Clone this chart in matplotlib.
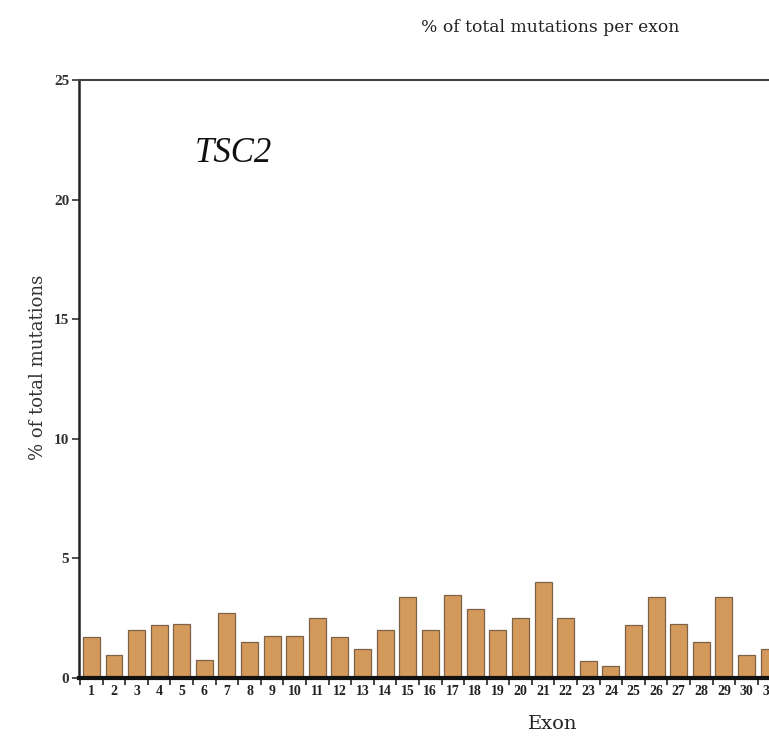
import matplotlib.pyplot as plt
import numpy as np

exons = list(range(1, 32))
pct = [1.7, 0.95, 2.0, 2.2, 2.25, 0.75, 2.7, 1.5, 1.75, 1.75,
       2.5, 1.7, 1.2, 2.0, 3.4, 2.0, 3.45, 2.9, 2.0, 2.5,
       4.0, 2.5, 0.7, 0.5, 2.2, 3.4, 2.25, 1.5, 3.4, 0.95,
       1.2]
yticks = [0, 5, 10, 15, 20, 25]

plt.rcParams['font.family'] = ['Liberation Serif', 'DejaVu Serif']

fig = plt.figure(figsize=(7.69, 7.37), dpi=100, facecolor='white')
ax = fig.add_axes([79 / 769, 59 / 737, 690 / 769, 598 / 737])

ax.bar(exons, pct, width=0.75, color='#d49a5b', edgecolor='#7d6248', linewidth=0.9)

ax.set_xlim(0.45, 30.78)
ax.set_ylim(0, 25)

ax.set_xticks(exons)
ax.set_xticklabels([str(e) for e in exons], fontsize=10, fontweight='bold', color='#222222')
ax.set_xticks(np.arange(0.5, 31.5, 1), minor=True)
ax.tick_params(axis='x', which='major', length=0, pad=5)
ax.tick_params(axis='x', which='minor', length=5, width=1.2, direction='out', color='#222222')

ax.set_yticks(yticks)
ax.set_yticklabels([str(t) for t in yticks], fontsize=11, fontweight='bold', color='#333333')
ax.tick_params(axis='y', length=5, width=1.2, color='#333333', pad=2)

ax.spines['right'].set_visible(False)
ax.spines['left'].set_linewidth(1.8)
ax.spines['left'].set_color('#222222')
ax.spines['bottom'].set_linewidth(3)
ax.spines['bottom'].set_color('#111111')
ax.spines['top'].set_linewidth(1.5)
ax.spines['top'].set_color('#444444')

# labels sit off-centre because the original axis runs past the crop
ax.set_xlabel("Exon", fontsize=14, color='#222222', family='DejaVu Serif')
ax.xaxis.set_label_coords(0.687, -0.062)
ax.set_ylabel("% of total mutations", fontsize=13, color='#333333', family='DejaVu Serif')
ax.yaxis.set_label_coords(-0.047, 0.52)

ax.text(0.168, 0.863, "TSC2", transform=ax.transAxes, fontsize=25,
        style='italic', color='#111111')

fig.text(550 / 769, 1 - 27 / 737, "% of total mutations per exon", fontsize=12.3,
         ha='center', va='center', color='#222222', family='DejaVu Serif')

fig.savefig("out.png", dpi=100, facecolor='white')
